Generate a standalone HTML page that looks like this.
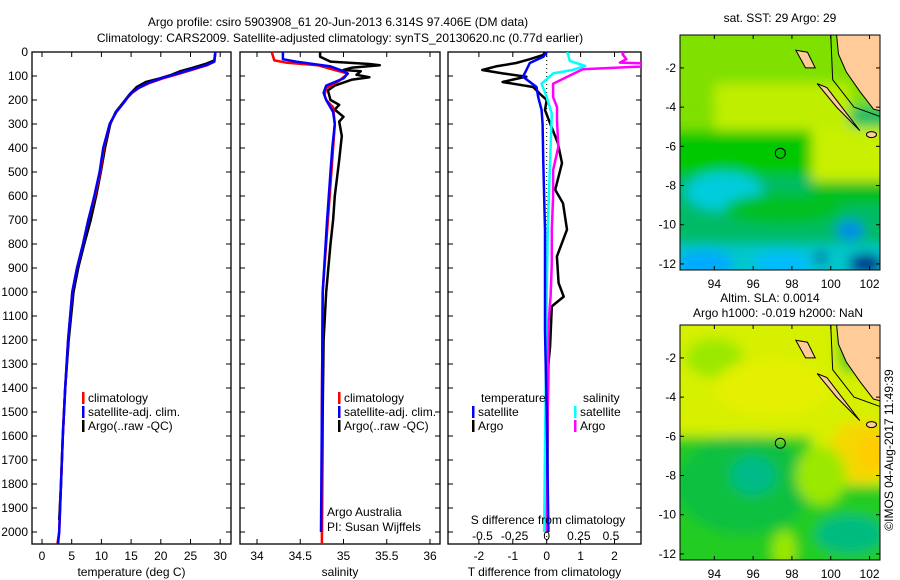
<!DOCTYPE html>
<html><head><meta charset="utf-8"><style>
body{margin:0;background:#fff;}
svg{display:block;font-family:"Liberation Sans",sans-serif;font-size:12px;}
</style></head><body>
<svg id="fig" width="900" height="580" viewBox="0 0 900 580">
<defs>
<clipPath id="c1"><rect x="32" y="52" width="199" height="492"/></clipPath>
<clipPath id="c2"><rect x="240" y="52" width="200" height="492"/></clipPath>
<clipPath id="c3"><rect x="448" y="52" width="193" height="492"/></clipPath>
<clipPath id="m1"><rect x="680" y="35" width="200" height="235"/></clipPath>
<clipPath id="m2"><rect x="680" y="325" width="200" height="235"/></clipPath>
<filter id="bl" x="-20%" y="-20%" width="140%" height="140%"><feGaussianBlur stdDeviation="6"/></filter>
</defs>
<text x="338" y="26" text-anchor="middle">Argo profile: csiro 5903908_61 20-Jun-2013 6.314S 97.406E (DM data)</text>
<text x="340" y="42" text-anchor="middle">Climatology: CARS2009. Satellite-adjusted climatology: synTS_20130620.nc (0.77d earlier)</text>
<g id="p1"></g>
<g id="p2"></g>
<g id="p3"></g>
<g id="map1"></g>
<g id="map2"></g>
<text transform="translate(893,450) rotate(-90)" text-anchor="middle">©IMOS 04-Aug-2017 11:49:39</text>
</svg>
<script>
// ---- data ----
const depthTicks=[0,100,200,300,400,500,600,700,800,900,1000,1100,1200,1300,1400,1500,1600,1700,1800,1900,2000];
const tempTicks=[0,5,10,15,20,25,30];
const salTicks=[34,34.5,35,35.5,36];
const tdTicks=[-2,-1,0,1,2];
const sdTicks=[-0.5,-0.25,0,0.25,0.5];
const sdTickLabels=["-0.5","-0.25","0","0.25","0.5"];

const tClimDepth=[0,40,55,70,90,110,130,150,170,190,210,250,300,400,500,600,700,800,900,1000,1200,1400,1600,1800,2000,2050];
const tClim=[29.2,29.0,27.8,25.8,23.2,20.3,18.0,16.3,15.2,14.4,13.8,12.5,11.4,10.4,9.8,8.9,7.8,6.9,5.9,5.1,4.4,3.9,3.5,3.2,2.9,2.6];
const tSat=[29.2,29.0,27.6,25.5,22.8,20.0,17.8,16.2,15.1,14.4,13.8,12.5,11.4,10.3,9.7,8.8,7.8,6.9,5.9,5.1,4.4,3.9,3.5,3.2,2.9,2.7];
const tArgoDepth=[0,35,50,65,80,95,110,125,145,175,200,250,300,400,500,600,700,800,900,1000,1200,1400,1600,1800,1950];
const tArgo=[29.2,29.0,27.5,25.5,23.3,21.8,19.8,17.5,16.0,14.8,14.0,12.4,11.5,10.6,9.9,9.1,8.2,7.1,6.1,5.3,4.5,3.9,3.5,3.2,2.9];

const sClimDepth=[0,35,45,55,75,90,120,150,180,200,230,300,400,500,600,700,1000,1500,2050];
const sClim=[34.17,34.2,34.35,34.7,34.9,35.05,34.95,34.8,34.78,34.8,34.88,34.9,34.88,34.86,34.84,34.82,34.76,34.75,34.75];
const sSatDepth=[0,30,40,60,80,90,110,140,170,200,250,300,400,500,600,700,1000,1500,2000];
const sSat=[34.3,34.3,34.45,34.85,35.0,35.05,35.0,34.8,34.77,34.8,34.88,34.9,34.87,34.85,34.83,34.81,34.76,34.75,34.74];
const sArgoDepth=[0,20,40,50,55,65,75,80,95,105,115,140,160,200,220,240,270,290,350,450,600,700,800,1000,1200,1500,2000];
const sArgo=[34.73,34.73,34.85,35.3,35.42,35.1,35.0,35.2,35.15,35.3,35.1,34.9,34.82,34.85,34.95,34.9,35.0,34.95,34.98,34.95,34.9,34.88,34.85,34.8,34.77,34.76,34.75];

const dDepthA=[0,12,30,46,60,75,89,103,115,125,146,174,200,242,297,380,463,574,630,740,852,963,1019,1060,1226,1300,1500,1800,2000];
const dTArgo=[-0.05,-0.1,-0.5,-0.9,-1.5,-1.9,-1.3,-0.6,-1.0,-1.3,-0.4,-0.2,0,-0.05,0.1,0.33,0.45,0.25,0.48,0.6,0.3,0.35,0.5,0.15,0.1,0.05,0.03,0.02,0.02];
const dDepthS=[0,20,46,75,103,146,188,242,300,463,740,1156,1500,2000];
const dTSat=[0,-0.1,-0.5,-0.6,-0.7,-0.3,-0.25,-0.15,-0.12,-0.1,-0.05,-0.05,0,0.05];
const dDepthC=[0,37,58,75,89,132,188,257,400,700,1000,2000];
const dSSat=[0.16,0.18,0.3,0.2,0.05,-0.04,0,0.04,0.03,0.01,0,-0.02];
const dDepthM=[0,9,30,44,48,61,72,103,132,188,229,285,396,493,604,740,880,1019,1156,1300,2000];
const dSArgo=[0.6,0.59,0.62,0.57,0.78,0.73,0.28,0.16,0.05,0.05,0.08,0.08,0.09,0.05,0.05,0.04,0.04,0.03,0.01,0.01,0.0];

// ---- helpers ----
const NS="http://www.w3.org/2000/svg";
function mk(tag,parent,attrs){const e=document.createElementNS(NS,tag);for(const k in attrs)e.setAttribute(k,attrs[k]);parent.appendChild(e);return e;}
const top0=52, bot0=544;
const yD=d=>top0+d*0.24;
const xT=t=>42+t*5.94;
const xS=s=>257+(s-34)*86.5;
const xTD=v=>546.7+v*33.9;
const xSD=v=>546.7+v*128.5;

function frame(g,x0,x1,xt,xf,xlabels,title,leftLabels){
  const r=mk('rect',g,{x:x0,y:top0,width:x1-x0,height:bot0-top0,fill:'none',stroke:'#000','stroke-width':1.3});
  
  
  depthTicks.forEach(d=>{
    const y=yD(d);
    mk('line',g,{x1:x0,x2:x0+5,y1:y,y2:y,stroke:'#000'});
    mk('line',g,{x1:x1-5,x2:x1,y1:y,y2:y,stroke:'#000'});
    if(leftLabels){const t=mk('text',g,{x:x0-4,y:y+4,'text-anchor':'end'});t.textContent=d;
      
      }
  });
  xt.forEach((v,i)=>{
    const x=xf(v);
    if(x<x0||x>x1)return;
    mk('line',g,{x1:x,x2:x,y1:top0,y2:top0+5,stroke:'#000'});
    mk('line',g,{x1:x,x2:x,y1:bot0-5,y2:bot0,stroke:'#000'});
    if(xlabels){const t=mk('text',g,{x:x,y:bot0+16,'text-anchor':'middle'});t.textContent=xlabels[i];
      
      }
  });
  const tl=mk('text',g,{x:(x0+x1)/2,y:bot0+32,'text-anchor':'middle'});tl.textContent=title;
  
  
}
function line(g,depths,vals,xf,color,w,clip,name){
  const pts=depths.map((d,i)=>xf(vals[i]).toFixed(1)+','+yD(d).toFixed(1)).join(' ');
  const p=mk('polyline',g,{points:pts,fill:'none',stroke:color,'stroke-width':w,'clip-path':'url(#'+clip+')','stroke-linejoin':'round'});
  
  
}
function legend(g,x,y,color,label){
  mk('rect',g,{x:x,y:y-10,width:2.5,height:12,fill:color});
  const t=mk('text',g,{x:x+6,y:y});t.textContent=label;
  
  
}
function txt(g,x,y,s,anchor,name){const t=mk('text',g,{x:x,y:y,'text-anchor':anchor||'start'});t.textContent=s;
  
  return t;}

// ---- panel 1 ----
const p1=document.getElementById('p1');
frame(p1,32,231,tempTicks,xT,tempTicks.map(String),'temperature (deg C)',true);
line(p1,tArgoDepth,tArgo,xT,'#000',2.5,'c1','argo-temperature-line');
line(p1,tClimDepth,tClim,xT,'#f00',2.5,'c1','climatology-temperature-line');
line(p1,tClimDepth,tSat,xT,'#00f',2.5,'c1','satellite-temperature-line');
legend(p1,82,402,'#f00','climatology');
legend(p1,82,416,'#00f','satellite-adj. clim.');
legend(p1,82,430,'#000','Argo(..raw -QC)');

// ---- panel 2 ----
const p2=document.getElementById('p2');
frame(p2,240,440,salTicks,xS,salTicks.map(String),'salinity',false);
line(p2,sArgoDepth,sArgo,xS,'#000',2.5,'c2','argo-salinity-line');
line(p2,sClimDepth,sClim,xS,'#f00',2.5,'c2','climatology-salinity-line');
line(p2,sSatDepth,sSat,xS,'#00f',2.5,'c2','satellite-salinity-line');
legend(p2,338,402,'#f00','climatology');
legend(p2,338,416,'#00f','satellite-adj. clim.');
legend(p2,338,430,'#000','Argo(..raw -QC)');
txt(p2,327,516,'Argo Australia','start','credit-line-1');
txt(p2,327,531,'PI: Susan Wijffels','start','credit-line-2');

// ---- panel 3 ----
const p3=document.getElementById('p3');
frame(p3,448,641,tdTicks,xTD,tdTicks.map(String),'T difference from climatology',false);
mk('line',p3,{x1:546.7,x2:546.7,y1:top0,y2:bot0,stroke:'#000','stroke-dasharray':'1,3'});
line(p3,dDepthA,dTArgo,xTD,'#000',2.5,'c3','argo-t-diff-line');
line(p3,dDepthM,dSArgo,xSD,'#f0f',2.5,'c3','argo-s-diff-line');
line(p3,dDepthC,dSSat,xSD,'#0ff',2.5,'c3','satellite-s-diff-line');
line(p3,dDepthS,dTSat,xTD,'#00f',2.5,'c3','satellite-t-diff-line');
txt(p3,481,402,'temperature','start','legend-title-temperature');
txt(p3,583,402,'salinity','start','legend-title-salinity');
legend(p3,472,416,'#00f','satellite');legend(p3,574,416,'#0ff','satellite');
legend(p3,472,430,'#000','Argo');legend(p3,574,430,'#f0f','Argo');
txt(p3,548,524,'S difference from climatology','middle','s-axis-title');
sdTicks.forEach((v,i)=>txt(p3,xSD(v),540,sdTickLabels[i],'middle','s-tick-label'));

// ---- maps ----
const lonL=92.23,lonR=102.55,latT=-0.32;
function drawMap(id,y0,clip,base,blobs,titles){
  const g=document.getElementById(id);
  const X=lon=>680+(lon-lonL)*19.4, Y=lat=>y0+(latT-lat)*19.6;
  const bg=mk('g',g,{'clip-path':'url(#'+clip+')'});
  mk('rect',bg,{x:670,y:y0-10,width:220,height:255,fill:base});
  const inner=mk('g',bg,{filter:'url(#bl)'});
  mk('rect',inner,{x:640,y:y0-40,width:280,height:315,fill:base});
  blobs.forEach(b=>{
    if(b[0]==='r')mk('rect',inner,{x:X(b[1]),y:Y(b[2]),width:(b[3]-b[1])*19.4,height:(b[2]-b[4])*19.6,fill:b[5]});
    else mk('ellipse',inner,{cx:X(b[1]),cy:Y(b[2]),rx:b[3]*19.4,ry:b[4]*19.6,fill:b[5]});
  });
  const land=[[100.3,-0.3],[102.6,-0.3],[102.6,-4.2],[102.2,-4.1],[101.5,-3.2],[100.8,-2.2],[100.4,-1.3]];
  mk('polygon',bg,{points:land.map(p=>X(p[0])+','+Y(p[1])).join(' '),fill:'#fc9',stroke:'#000'});
  mk('polyline',bg,{points:[[100,-0.3],[100.1,-2.6],[101.2,-4.0],[102.6,-4.5]].map(p=>X(p[0])+','+Y(p[1])).join(' '),fill:'none',stroke:'#000'});
  mk('polygon',bg,{points:[[98.2,-1.1],[98.8,-1.2],[99.2,-2.0],[98.7,-2.0]].map(p=>X(p[0])+','+Y(p[1])).join(' '),fill:'#fc9',stroke:'#000'});
  mk('polygon',bg,{points:[[99.3,-2.8],[99.8,-3.0],[101.5,-5.2],[100.3,-4.0]].map(p=>X(p[0])+','+Y(p[1])).join(' '),fill:'#fc9',stroke:'#000'});
  mk('ellipse',bg,{cx:X(102.1),cy:Y(-5.4),rx:5,ry:3,fill:'#fc9',stroke:'#000'});
  const fr=mk('rect',g,{x:680,y:y0,width:200,height:235,fill:'none',stroke:'#000'});
  
  
  const c=mk('circle',g,{cx:X(97.4),cy:Y(-6.35),r:5,fill:'none',stroke:'#000'});
  
  
  [94,96,98,100,102].forEach(l=>{mk('line',g,{x1:X(l),x2:X(l),y1:y0,y2:y0+4,stroke:'#000'});mk('line',g,{x1:X(l),x2:X(l),y1:y0+231,y2:y0+235,stroke:'#000'});
    txt(g,X(l),y0+253,String(l),'middle','lon-tick-label');});
  [-2,-4,-6,-8,-10,-12].forEach(l=>{mk('line',g,{x1:680,x2:684,y1:Y(l),y2:Y(l),stroke:'#000'});mk('line',g,{x1:876,x2:880,y1:Y(l),y2:Y(l),stroke:'#000'});
    txt(g,676,Y(l)+4,String(l),'end','lat-tick-label');});
  titles.forEach(t=>txt(g,t[0],t[1],t[2],'middle','map-title'));
}
drawMap('map1',35,'m1','#00bb66',[
 ['r',88,4,106,-4,'#80e000'],
 ['r',94,-2.8,101,-5.5,'#c0ee00'],
 ['r',88,-4,94,-5.2,'#80e000'],
 ['r',99,-5,106,-8,'#c8f000'],
 ['r',88,-5.2,99,-7.5,'#00c800'],
 ['r',99,-7.8,106,-9,'#00c020'],
 ['e',94.5,-8.3,2,1,'#00ccdd'],
 ['e',97.5,-9.2,3,0.8,'#00c020'],
 ['r',88,-11,106,-16,'#00c8cc'],
 ['e',93.5,-12,1.5,0.7,'#00aaff'],
 ['e',97.5,-12,1.5,0.6,'#00bbff'],
 ['e',101,-10.3,0.7,0.5,'#0088ee'],
 ['e',101.8,-12,0.9,0.5,'#001088'],
 ['e',99.5,-11.7,0.3,0.3,'#002299']
],[[780,22,'sat. SST: 29 Argo: 29']]);
drawMap('map2',325,'m2','#22cc22',[
 ['r',88,4,106,-6,'#d6f000'],
 ['r',99,-6,106,-8.5,'#d6f000'],
 ['e',94,-2,1.5,1,'#9be800'],
 ['e',97,-3.5,3,1.5,'#e4f000'],
 ['e',101.5,-6.8,1.6,1.6,'#f5d800'],
 ['e',102.2,-6.8,0.8,1,'#ffcc00'],
 ['e',95.5,-8.5,3.5,2.5,'#10c040'],
 ['e',96,-8,1.2,1,'#00bb88'],
 ['e',101,-11,1.8,1,'#00bb80'],
 ['e',97.6,-11.8,0.6,1,'#9be800'],
 ['e',99.5,-8,1.3,1.5,'#9be800'],
 ['e',101,-1.5,0.6,1.3,'#22cc22']
],[[770,302,'Altim. SLA: 0.0014'],[778,317,'Argo h1000: -0.019 h2000: NaN']]);
</script>
</body></html>
